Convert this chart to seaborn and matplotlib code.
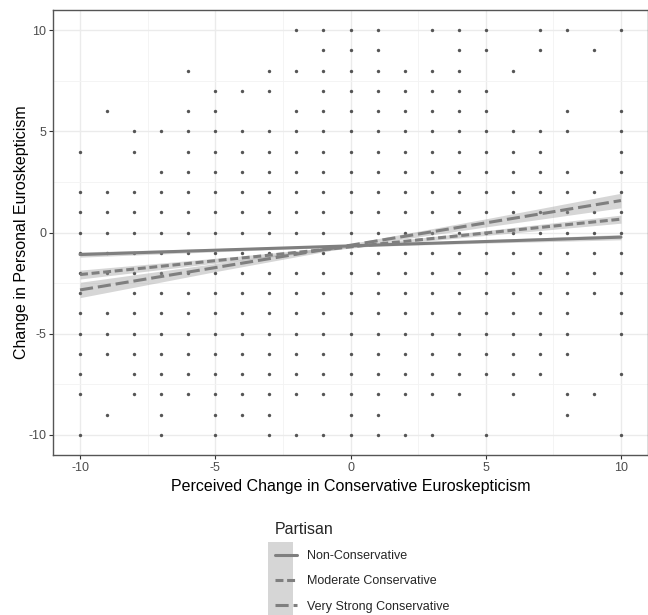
import numpy as np
import pandas as pd
import seaborn as sns
from matplotlib import pyplot as plt
from matplotlib.patches import Rectangle
from matplotlib.ticker import MultipleLocator

sns.set_theme(style="white")
plt.rcParams['font.family'] = ['Liberation Sans', 'DejaVu Sans']
plt.rcParams['axes.unicode_minus'] = False

# integer response grid: which x values occur at each y
y_levels = [10, 9, 8, 7, 6, 5, 4, 3, 2, 1, 0,
            -1, -2, -3, -4, -5, -6, -7, -8, -9, -10]
x_at_y = [
    [-2, -1, 0, 1, 3, 4, 5, 7, 8, 10],
    [-1, 0, 1, 4, 5, 7, 9],
    [-6, -3, -2, -1, 0, 1, 2, 3, 4, 6],
    [-5, -4, -3, -1, 0, 1, 2, 3, 4, 5],
    [-9, -6, -5, -2, -1, 0, 1, 2, 3, 4, 5, 8, 10],
    [-8, -7, -6, -5, -4, -3, -2, -1, 0, 1, 2, 3, 4, 5, 6, 7, 8, 10],
    [-10, -8, -6, -5, -4, -3, -2, -1, 0, 1, 2, 3, 4, 5, 6, 7, 10],
    [-7, -6, -5, -4, -3, -2, -1, 0, 1, 2, 3, 4, 5, 6, 7, 8, 10],
    [-10, -9, -8, -7, -6, -5, -4, -3, -2, -1, 0, 1, 2, 3, 4, 5, 6, 7, 8, 9, 10],
    [-10, -9, -8, -7, -6, -5, -4, -3, -2, -1, 0, 1, 2, 3, 4, 5, 6, 7, 8, 9, 10],
    [-10, -9, -8, -7, -6, -5, -4, -3, -2, -1, 0, 1, 2, 3, 4, 5, 6, 7, 8, 9, 10],
    [-10, -9, -8, -7, -6, -5, -4, -3, -2, -1, 0, 1, 2, 3, 4, 5, 6, 7, 8, 9, 10],
    [-10, -9, -8, -7, -6, -5, -4, -3, -2, -1, 0, 1, 2, 3, 4, 5, 6, 7, 8, 9, 10],
    [-10, -8, -7, -6, -5, -4, -3, -2, -1, 0, 1, 2, 3, 4, 5, 6, 7, 8, 9, 10],
    [-10, -9, -8, -7, -6, -5, -4, -3, -2, -1, 0, 1, 2, 3, 4, 5, 6, 7, 8, 10],
    [-10, -9, -8, -7, -6, -5, -4, -3, -2, -1, 0, 1, 2, 3, 4, 5, 6, 7, 8, 10],
    [-10, -9, -8, -7, -6, -5, -4, -3, -2, -1, 0, 1, 2, 3, 4, 5, 6, 7, 8],
    [-10, -8, -7, -6, -5, -4, -3, -2, -1, 0, 1, 2, 3, 4, 5, 6, 7, 10],
    [-10, -8, -7, -6, -5, -4, -3, -2, -1, 0, 1, 2, 3, 4, 6, 8, 9],
    [-9, -7, -5, -4, -3, 0, 1, 8],
    [-10, -7, -5, -3, -2, -1, 0, 1, 2, 3, 5, 10],
]

# fitted lines (values at x = -10 and x = 10) and band half widths
groups = ['Non-Conservative', 'Moderate Conservative', 'Very Strong Conservative']
line_x = [-10, 10]
line_y = {'Non-Conservative':         [-1.09, -0.23],
          'Moderate Conservative':    [-2.08, 0.66],
          'Very Strong Conservative': [-2.84, 1.58]}
band_x = [-10, -5, 0, 5, 10]
band_hw = {'Non-Conservative':         [0.13, 0.08, 0.05, 0.08, 0.13],
           'Moderate Conservative':    [0.22, 0.12, 0.06, 0.12, 0.20],
           'Very Strong Conservative': [0.38, 0.20, 0.08, 0.20, 0.36]}

pts = pd.DataFrame([(x, y) for y, xs in zip(y_levels, x_at_y) for x in xs],
                   columns=['x', 'y'])
lines = pd.DataFrame([(x, y, g) for g in groups for x, y in zip(line_x, line_y[g])],
                     columns=['x', 'y', 'Partisan'])

W, H = 648, 615
fig = plt.figure(figsize=(W / 100, H / 100), dpi=100)
ax = fig.add_axes([53 / W, 1 - 455 / H, (W - 53) / W, (455 - 10) / H])

ax.xaxis.set_major_locator(MultipleLocator(5))
ax.yaxis.set_major_locator(MultipleLocator(5))
ax.xaxis.set_minor_locator(MultipleLocator(2.5))
ax.yaxis.set_minor_locator(MultipleLocator(2.5))
ax.grid(which='major', color='#ebebeb', linewidth=1.0)
ax.grid(which='minor', color='#f3f3f3', linewidth=0.6)
ax.set_axisbelow(True)

sns.scatterplot(data=pts, x='x', y='y', color='#555555', s=6,
                linewidth=0, ax=ax, zorder=2)

for g in groups:
    cy = np.interp(band_x, line_x, line_y[g])
    hw = np.array(band_hw[g])
    ax.fill_between(band_x, cy - hw, cy + hw, color='#999999', alpha=0.4,
                    linewidth=0, zorder=3)

dash_map = {'Non-Conservative': '',
            'Moderate Conservative': (2.6, 1.2),
            'Very Strong Conservative': (4.3, 1.6)}
sns.lineplot(data=lines, x='x', y='y', style='Partisan', style_order=groups,
             dashes=dash_map, color='#7f7f7f', linewidth=2.2, ax=ax, zorder=4)

ax.set_xlim(-11, 11)
ax.set_ylim(-11, 11)
for s in ax.spines.values():
    s.set_color('#555555')
    s.set_linewidth(1.0)
ax.tick_params(which='major', direction='out', length=3, width=0.8,
               color='#333333', labelcolor='#4d4d4d', labelsize=9,
               bottom=True, left=True, pad=2)
ax.tick_params(which='minor', length=0)
ax.set_xticks([-10, -5, 0, 5, 10])
ax.set_yticks([-10, -5, 0, 5, 10])
ax.set_xlabel('Perceived Change in Conservative Euroskepticism',
              fontsize=11.5, color='black', labelpad=4)
ax.set_ylabel('Change in Personal Euroskepticism',
              fontsize=11.5, color='black', labelpad=-1)

handles, labels = ax.get_legend_handles_labels()
ax.get_legend().remove()
fig.patches.append(Rectangle((268 / W, 0), 25 / W, (H - 542) / H,
                             transform=fig.transFigure, facecolor='#d6d6d6',
                             edgecolor='none', zorder=0))
leg = fig.legend(handles, labels, loc='upper left',
                 bbox_to_anchor=(264 / W, 1 - 511 / H), frameon=False,
                 title='Partisan', alignment='left', fontsize=9,
                 title_fontproperties={'size': 11.5}, handlelength=1.75,
                 labelspacing=1.05, handletextpad=0.8)

fig.savefig('out.png', dpi=100)
